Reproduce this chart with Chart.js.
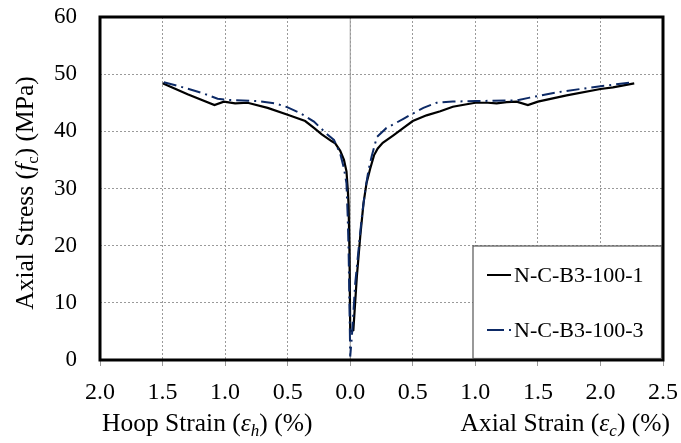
<!DOCTYPE html>
<html>
<head>
<meta charset="utf-8">
<script src="https://cdn.jsdelivr.net/npm/chart.js@4.4.0/dist/chart.umd.min.js"></script>
<style>
  html, body { margin: 0; padding: 0; background: #fff; }
  #wrap { width: 681px; height: 443px; position: relative; }
</style>
</head>
<body>
<div id="wrap"><canvas id="myChart"></canvas></div>
<script>
// hoop strain goes on the negative side of x, the tick labels show it as positive
const seriesNames = ['N-C-B3-100-1', 'N-C-B3-100-3'];

const strain1 = [-1.50, -1.30, -1.085, -1.01, -0.92, -0.82, -0.66, -0.50, -0.36, -0.29, -0.23, -0.15, -0.12, -0.08, -0.05, -0.03, -0.02, -0.013, -0.006, 0.0,
  0.025, 0.053, 0.08, 0.106, 0.13, 0.16, 0.19, 0.22, 0.26, 0.345, 0.42, 0.50, 0.61, 0.72, 0.82, 0.92, 1.0, 1.10, 1.17, 1.25, 1.33, 1.42, 1.50, 1.73, 2.0, 2.10, 2.27];
const stress1 = [48.4, 46.5, 44.6, 45.2, 44.9, 45.0, 44.1, 42.9, 41.8, 40.6, 39.5, 38.3, 37.9, 36.6, 35.0, 33.0, 30.0, 27.0, 19.0, 5.0,
  5.2, 14.6, 21.6, 27.4, 30.9, 33.5, 35.8, 37.0, 38.0, 39.3, 40.5, 41.8, 42.8, 43.5, 44.3, 44.7, 45.0, 45.0, 44.9, 45.1, 45.2, 44.6, 45.2, 46.3, 47.4, 47.7, 48.4];

const strain3 = [-1.49, -1.32, -1.17, -1.06, -0.98, -0.75, -0.60, -0.50, -0.42, -0.37, -0.29, -0.19, -0.13, -0.08, -0.05, -0.03, -0.02, -0.013, -0.005, 0.0,
  0.013, 0.04, 0.066, 0.093, 0.12, 0.146, 0.17, 0.213, 0.29, 0.36, 0.425, 0.50, 0.585, 0.69, 0.82, 1.0, 1.33, 1.435, 1.675, 2.0, 2.23];
const stress3 = [48.6, 47.6, 46.6, 45.7, 45.5, 45.3, 44.9, 44.2, 43.4, 42.8, 41.7, 39.6, 38.5, 36.1, 33.5, 30.9, 25.0, 19.2, 8.0, 0.6,
  4.1, 13.4, 19.2, 25.1, 29.7, 33.2, 35.5, 39.0, 40.6, 41.4, 42.2, 43.1, 44.1, 45.0, 45.2, 45.3, 45.4, 45.9, 46.9, 47.9, 48.5];

const xTickLabels = ['2.0', '1.5', '1.0', '0.5', '0.0', '0.5', '1.0', '1.5', '2.0', '2.5'];

const FONT = 'Liberation Serif';
const blueDash = [13, 5, 2, 5];

function toPoints(xs, ys) {
  return xs.map((x, i) => ({ x: x, y: ys[i] }));
}

// draw a line of mixed-style text pieces, starting at x
function drawPieces(c, pieces, x, y) {
  pieces.forEach((p) => {
    c.font = p.font;
    c.fillText(p.t, x, y + (p.dy || 0));
    x += c.measureText(p.t).width;
  });
}
function piecesWidth(c, pieces) {
  let w = 0;
  pieces.forEach((p) => { c.font = p.font; w += c.measureText(p.t).width; });
  return w;
}

const extras = {
  id: 'extras',
  beforeDatasetsDraw(chart) {
    const c = chart.ctx;
    const a = chart.chartArea;
    const x0 = chart.scales.x.getPixelForValue(0);
    c.save();
    c.strokeStyle = '#9a9a9a';
    c.lineWidth = 1;
    c.beginPath();
    c.moveTo(x0, a.top);
    c.lineTo(x0, a.bottom);
    c.stroke();
    c.restore();
  },
  afterDraw(chart) {
    const c = chart.ctx;
    const a = chart.chartArea;
    c.save();
    // frame
    c.strokeStyle = '#000';
    c.lineWidth = 3;
    c.strokeRect(a.left, a.top, a.right - a.left, a.bottom - a.top);

    // legend box
    const lx = 473, ly = 246;
    c.fillStyle = '#fff';
    c.fillRect(lx, ly, a.right - 1.5 - lx, a.bottom - 1.5 - ly);
    c.strokeStyle = '#555';
    c.lineWidth = 1.2;
    c.strokeRect(lx, ly, a.right - 1.5 - lx, a.bottom - 1.5 - ly);
    c.lineWidth = 2;
    c.strokeStyle = '#000';
    c.beginPath(); c.moveTo(487, 275); c.lineTo(511, 275); c.stroke();
    c.strokeStyle = '#0d2a66';
    c.setLineDash([17, 5, 2, 5]);
    c.beginPath(); c.moveTo(487, 330); c.lineTo(512, 330); c.stroke();
    c.setLineDash([]);
    c.fillStyle = '#000';
    c.textBaseline = 'middle';
    c.textAlign = 'left';
    c.font = '22px ' + FONT;
    c.fillText(seriesNames[0], 514, 276);
    c.fillText(seriesNames[1], 514, 331);

    // axis titles
    const reg = '25.5px ' + FONT;
    const ita = 'italic 25.5px ' + FONT;
    const sub = '17px ' + FONT;
    const isub = 'italic 17px ' + FONT;
    c.textBaseline = 'alphabetic';
    drawPieces(c, [
      { t: 'Hoop Strain (', font: reg },
      { t: 'ε', font: ita },
      { t: 'h', font: isub, dy: 5 },
      { t: ') (%)', font: reg }
    ], 102, 431);
    const axial = [
      { t: 'Axial Strain (', font: reg },
      { t: 'ε', font: ita },
      { t: 'c', font: isub, dy: 5 },
      { t: ') (%)', font: reg }
    ];
    drawPieces(c, axial, 670 - piecesWidth(c, axial), 431);

    const ytitle = [
      { t: 'Axial Stress (', font: reg },
      { t: 'f', font: ita },
      { t: 'c', font: sub, dy: 5 },
      { t: ') (MPa)', font: reg }
    ];
    c.translate(33, 193);
    c.rotate(-Math.PI / 2);
    drawPieces(c, ytitle, -piecesWidth(c, ytitle) / 2, 0);
    c.restore();
  }
};

new Chart(document.getElementById('myChart'), {
  type: 'scatter',
  data: {
    datasets: [
      {
        label: seriesNames[0],
        data: toPoints(strain1, stress1),
        showLine: true,
        borderColor: '#000',
        borderWidth: 2.2,
        pointRadius: 0,
        tension: 0,
        order: 2
      },
      {
        label: seriesNames[1],
        data: toPoints(strain3, stress3),
        showLine: true,
        borderColor: '#0d2a66',
        borderWidth: 2,
        borderDash: blueDash,
        pointRadius: 0,
        tension: 0,
        order: 1
      }
    ]
  },
  plugins: [extras],
  options: {
    responsive: true,
    maintainAspectRatio: false,
    animation: false,
    layout: { padding: { top: 17, right: 18, left: 0, bottom: 0 } },
    plugins: {
      legend: { display: false },
      tooltip: { enabled: false }
    },
    scales: {
      x: {
        type: 'linear',
        min: -2,
        max: 2.5,
        afterFit: (scale) => {
          scale.height = 83;
          scale.paddingLeft = 0;
          scale.paddingRight = 0;
        },
        ticks: {
          stepSize: 0.5,
          padding: 12,
          color: '#000',
          font: { family: FONT, size: 24 },
          maxRotation: 0,
          callback: (v, i) => xTickLabels[i]
        },
        grid: {
          color: '#9a9a9a',
          tickColor: '#9a9a9a',
          tickLength: 6,
          lineWidth: 1
        },
        border: { display: false, dash: [2, 2] }
      },
      y: {
        min: 0,
        max: 60,
        afterFit: (scale) => {
          scale.width = 100;
          scale.paddingTop = 0;
          scale.paddingBottom = 0;
        },
        ticks: {
          stepSize: 10,
          padding: 23,
          color: '#000',
          font: { family: FONT, size: 23 }
        },
        grid: {
          color: '#9a9a9a',
          drawTicks: false,
          lineWidth: 1
        },
        border: { display: false, dash: [2, 2] }
      }
    }
  }
});
</script>
</body>
</html>
